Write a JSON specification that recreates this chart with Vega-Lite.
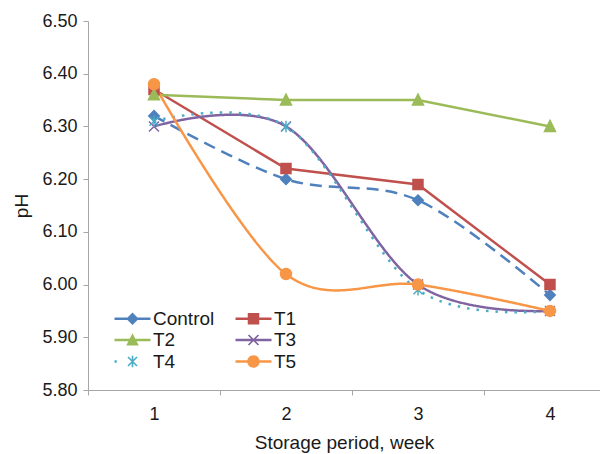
{
  "$schema": "https://vega.github.io/schema/vega-lite/v6.json",
  "width": 512,
  "height": 369,
  "autosize": {"type": "none"},
  "padding": {"left": 88, "top": 21, "right": 0, "bottom": 64},
  "background": "white",
  "config": {
    "view": {"stroke": null},
    "font": "Liberation Sans",
    "axis": {"grid": false, "domainColor": "#a6a6a6", "tickColor": "#a6a6a6", "labelColor": "#1a1a1a", "titleColor": "#1a1a1a", "labelFontSize": 18, "titleFontSize": 19, "titleFontWeight": "normal", "labelFont": "Liberation Sans", "titleFont": "Liberation Sans"}
  },
  "data": {"values": [
    {"week": 1, "series": "Control", "pH": 6.32},
    {"week": 2, "series": "Control", "pH": 6.20},
    {"week": 3, "series": "Control", "pH": 6.16},
    {"week": 4, "series": "Control", "pH": 5.98},
    {"week": 1, "series": "T1", "pH": 6.37},
    {"week": 2, "series": "T1", "pH": 6.22},
    {"week": 3, "series": "T1", "pH": 6.19},
    {"week": 4, "series": "T1", "pH": 6.00},
    {"week": 1, "series": "T2", "pH": 6.36},
    {"week": 2, "series": "T2", "pH": 6.35},
    {"week": 3, "series": "T2", "pH": 6.35},
    {"week": 4, "series": "T2", "pH": 6.30},
    {"week": 1, "series": "T3", "pH": 6.30},
    {"week": 2, "series": "T3", "pH": 6.30},
    {"week": 3, "series": "T3", "pH": 6.00},
    {"week": 4, "series": "T3", "pH": 5.95},
    {"week": 1, "series": "T4", "pH": 6.31},
    {"week": 2, "series": "T4", "pH": 6.30},
    {"week": 3, "series": "T4", "pH": 5.99},
    {"week": 4, "series": "T4", "pH": 5.95},
    {"week": 1, "series": "T5", "pH": 6.38},
    {"week": 2, "series": "T5", "pH": 6.02},
    {"week": 3, "series": "T5", "pH": 6.00},
    {"week": 4, "series": "T5", "pH": 5.95}
  ]},
  "encoding": {
    "x": {
      "field": "week", "type": "quantitative",
      "scale": {"domain": [0.5, 4.379], "nice": false, "zero": false},
      "axis": {
        "values": [0.5, 1, 1.5, 2, 2.5, 3, 3.5, 4],
        "labelExpr": "datum.value % 1 === 0 ? '' + datum.value : ''",
        "tickOpacity": {"condition": {"test": "datum.value % 1 === 0", "value": 0}, "value": 1},
        "labelFlush": false, "labelOverlap": false,
        "tickSize": 5, "labelPadding": 10,
        "title": "Storage period, week", "titlePadding": 10
      }
    },
    "y": {
      "field": "pH", "type": "quantitative",
      "scale": {"domain": [5.8, 6.5], "nice": false, "zero": false},
      "axis": {
        "values": [5.8, 5.9, 6.0, 6.1, 6.2, 6.3, 6.4, 6.5],
        "format": ".2f", "tickSize": 5, "labelPadding": 6,
        "title": "pH", "titlePadding": 10
      }
    }
  },
  "layer": [
    {
      "mark": {"type": "point", "filled": true, "size": 0, "opacity": 1, "fillOpacity": 1},
      "encoding": {
        "color": {
          "field": "series", "type": "nominal",
          "scale": {"domain": ["Control", "T1", "T2", "T3", "T4", "T5"], "range": ["#4F81BD", "#C0504D", "#9BBB59", "#8064A2", "#4BACC6", "#F79646"]},
          "legend": {
            "orient": "none", "direction": "horizontal", "legendX": 35, "legendY": 288, "columns": 2, "title": null,
            "labelFontSize": 19, "labelOffset": 11, "columnPadding": 20, "rowPadding": 1.5,
            "symbolSize": 100, "symbolStrokeWidth": 0, "symbolOpacity": 1, "symbolFillColor": null, "padding": 0, "labelColor": "#1a1a1a"
          }
        },
        "shape": {
          "field": "series", "type": "nominal",
          "scale": {"domain": ["Control", "T1", "T2", "T3", "T4", "T5"], "range": [
            "M-3.6,-0.23H3.6V0.23H-3.6ZM0,-1.25L1.25,0L0,1.25L-1.25,0Z",
            "M-3.6,-0.23H3.6V0.23H-3.6ZM-1.15,-1.15H1.15V1.15H-1.15Z",
            "M-3.6,-0.23H3.6V0.23H-3.6ZM0,-1.35L1.25,1.1L-1.25,1.1Z",
            "M-3.6,-0.23H3.6V0.23H-3.6ZM-0.887,-1.113L1.113,0.887L0.887,1.113L-1.113,-0.887ZM-0.887,1.113L-1.113,0.887L0.887,-1.113L1.113,-0.887Z",
            "M-3.6,-0.23H-3.15V0.23H-3.6ZM-0.787,-1.013L1.013,0.787L0.787,1.013L-1.013,-0.787ZM-0.787,1.013L-1.013,0.787L0.787,-1.013L1.013,-0.787ZM-0.16,-1.15H0.16V1.15H-0.16Z",
            "M-3.6,-0.23H3.6V0.23H-3.6ZM-1.25,0A1.25,1.25,0,1,1,1.25,0A1.25,1.25,0,1,1,-1.25,0Z"
          ]}
        }
      }
    },
    {
      "transform": [{"filter": {"field": "series", "oneOf": ["T1", "T2"]}}],
      "mark": {"type": "line", "interpolate": "linear", "strokeWidth": 2.5},
      "encoding": {"stroke": {"field": "series", "type": "nominal", "scale": {"range": ["#4F81BD", "#C0504D", "#9BBB59", "#8064A2", "#4BACC6", "#F79646"]}, "legend": null}}
    },
    {
      "transform": [{"filter": {"field": "series", "oneOf": ["Control", "T3", "T4", "T5"]}}],
      "mark": {"type": "line", "interpolate": "cardinal", "strokeWidth": 2.5},
      "encoding": {
        "stroke": {"field": "series", "type": "nominal", "scale": {"range": ["#4F81BD", "#C0504D", "#9BBB59", "#8064A2", "#4BACC6", "#F79646"]}, "legend": null},
        "strokeDash": {
          "field": "series", "type": "nominal",
          "scale": {"domain": ["Control", "T3", "T4", "T5"], "range": [[12, 7], [1, 0], [2.5, 7], [1, 0]]},
          "legend": null
        }
      }
    },
    {
      "transform": [{"filter": {"field": "series", "equal": "Control"}}],
      "mark": {"type": "point", "shape": "M0,-1.05L1.05,0L0,1.05L-1.05,0Z", "filled": true, "fill": "#4F81BD", "stroke": "#4F81BD", "strokeWidth": 1.5, "size": 100, "opacity": 1}
    },
    {
      "transform": [{"filter": {"field": "series", "equal": "T1"}}],
      "mark": {"type": "point", "shape": "M-1,-1H1V1H-1Z", "filled": true, "fill": "#C0504D", "stroke": "#C0504D", "strokeWidth": 1.5, "size": 100, "opacity": 1}
    },
    {
      "transform": [{"filter": {"field": "series", "equal": "T2"}}],
      "mark": {"type": "point", "shape": "M0,-1.2L1.1,1L-1.1,1Z", "filled": true, "fill": "#9BBB59", "stroke": "#9BBB59", "strokeWidth": 1.5, "size": 100, "opacity": 1}
    },
    {
      "transform": [{"filter": {"field": "series", "equal": "T3"}}],
      "mark": {"type": "point", "shape": "M-1,-1L1,1M-1,1L1,-1", "filled": true, "fill": "#8064A2", "stroke": "#8064A2", "strokeWidth": 1.5, "size": 100, "opacity": 1}
    },
    {
      "transform": [{"filter": {"field": "series", "equal": "T4"}}],
      "mark": {"type": "point", "shape": "M-0.9,-0.9L0.9,0.9M-0.9,0.9L0.9,-0.9M0,-1.15V1.15", "filled": true, "fill": "#4BACC6", "stroke": "#4BACC6", "strokeWidth": 1.5, "size": 100, "opacity": 1}
    },
    {
      "transform": [{"filter": {"field": "series", "equal": "T5"}}],
      "mark": {"type": "point", "shape": "M-1.1,0A1.1,1.1,0,1,0,1.1,0A1.1,1.1,0,1,0,-1.1,0Z", "filled": true, "fill": "#F79646", "stroke": "#F79646", "strokeWidth": 1.5, "size": 100, "opacity": 1}
    }
  ]
}
